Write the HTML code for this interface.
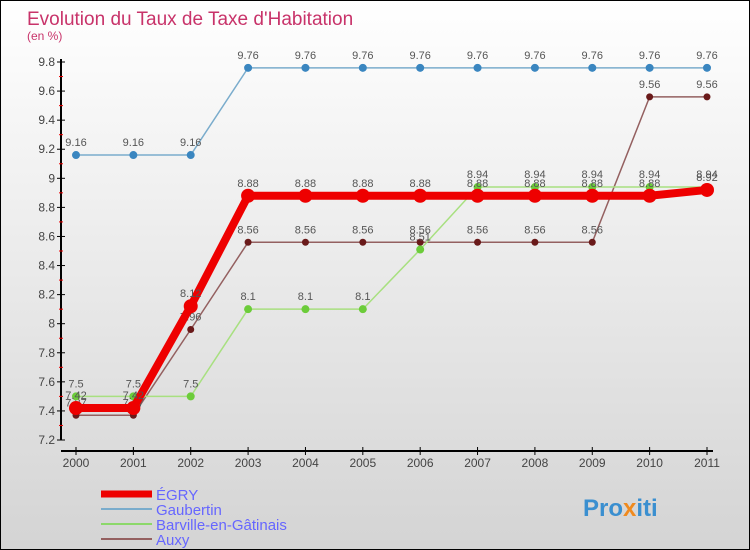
<!DOCTYPE html>
<html><head><meta charset="utf-8"><style>
body{margin:0}
#c{width:748px;height:548px;border:1px solid #000;background:linear-gradient(#fff,#d4d4d4);position:relative;font-family:"Liberation Sans",sans-serif;overflow:hidden}
svg text{font-family:"Liberation Sans",sans-serif}
</style></head><body>
<div id="c">
<svg id="s" width="748" height="548">
<text x="26" y="24" font-size="19" fill="#c8336a">Evolution du Taux de Taxe d'Habitation</text>
<text x="26" y="39" font-size="12" fill="#c8336a">(en %)</text>
<g id="axes"></g><g id="series"></g>
<g>
<line x1="100" y1="493" x2="151" y2="493" stroke="#e00" stroke-width="7"/>
<text x="155" y="499" font-size="15" fill="#66f">ÉGRY</text>
<line x1="100" y1="508" x2="151" y2="508" stroke="#7aaccc" stroke-width="2"/>
<text x="155" y="514" font-size="15" fill="#66f">Gaubertin</text>
<line x1="100" y1="523" x2="151" y2="523" stroke="#8cd86a" stroke-width="2"/>
<text x="155" y="529" font-size="15" fill="#66f">Barville-en-Gâtinais</text>
<line x1="100" y1="538" x2="151" y2="538" stroke="#946060" stroke-width="2"/>
<text x="155" y="544" font-size="15" fill="#66f">Auxy</text>
</g>
<text x="582" y="515" font-size="24" font-weight="bold" fill="#3a8fd0">Pro<tspan fill="#f08a1e">x</tspan>iti</text>
</svg></div>
<script>
const years=[2000,2001,2002,2003,2004,2005,2006,2007,2008,2009,2010,2011];
const yTicks=[7.2,7.4,7.6,7.8,8,8.2,8.4,8.6,8.8,9,9.2,9.4,9.6,9.8];
const egry=[7.42,7.42,8.12,8.88,8.88,8.88,8.88,8.88,8.88,8.88,8.88,8.92];
const gaubertin=[9.16,9.16,9.16,9.76,9.76,9.76,9.76,9.76,9.76,9.76,9.76,9.76];
const barville=[7.5,7.5,7.5,8.1,8.1,8.1,8.51,8.94,8.94,8.94,8.94,8.94];
const auxy=[7.37,7.37,7.96,8.56,8.56,8.56,8.56,8.56,8.56,8.56,9.56,9.56];
const NS="http://www.w3.org/2000/svg";
const X=i=>75+i*(631/11);
const Y=v=>439-(v-7.2)*(378/2.6);
function mk(t,a,p){const e=document.createElementNS(NS,t);for(const k in a)e.setAttribute(k,a[k]);p.appendChild(e);return e;}
const ax=document.getElementById('axes');
const ya=mk('line',{x1:60,y1:58,x2:60,y2:439,stroke:'#000','stroke-width':2},ax);


const xa=mk('line',{x1:60,y1:450,x2:712,y2:450,stroke:'#000','stroke-width':2},ax);


yTicks.forEach((v,i)=>{
 mk('line',{x1:56,y1:Y(v),x2:64,y2:Y(v),stroke:'#000'},ax);
 if(i<yTicks.length-1)mk('line',{x1:58,y1:Y(v+0.1),x2:62,y2:Y(v+0.1),stroke:'#e00'},ax);
 const t=mk('text',{x:54,y:Y(v)+4,'font-size':12,'text-anchor':'end',fill:'#444'},ax);
 t.textContent=String(v);
 
 
});
years.forEach((yr,i)=>{
 mk('line',{x1:X(i),y1:446,x2:X(i),y2:454,stroke:'#000'},ax);
 const t=mk('text',{x:X(i),y:466,'font-size':12,'text-anchor':'middle',fill:'#444'},ax);
 t.textContent=yr;
 
 
});
const sg=document.getElementById('series');
function series(vals,color,dot,w,r,name){
 const g=mk('g',{},sg);
 
 
 const pl=mk('polyline',{points:vals.map((v,i)=>X(i)+','+Y(v)).join(' '),fill:'none',stroke:color,'stroke-width':w},g);
 
 
 vals.forEach((v,i)=>{
  const c=mk('circle',{cx:X(i),cy:Y(v),r:r,fill:dot},g);
  
  
  const t=mk('text',{x:X(i),y:Y(v)-9,'font-size':11,'text-anchor':'middle',fill:'#555'},g);
  t.textContent=String(v);
  
  
 });
}
series(gaubertin,'#7aaccc','#3a86c0',1.5,4,'gaubertin');
series(auxy,'#946060','#6a1a1a',1.5,3.5,'auxy');
series(barville,'#a8e080','#6ccc3a',1.5,4,'barville');
series(egry,'#e00','#e00',8,7,'egry');
</script>
</body></html>
